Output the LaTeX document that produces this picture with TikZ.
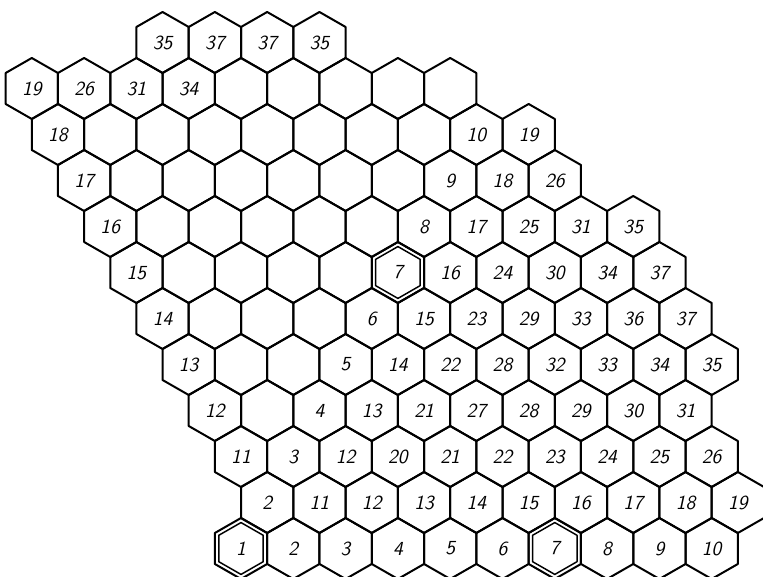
\documentclass[tikz,border=0pt]{standalone}
\usepackage{tikz}
\tikzset{
  hexline/.style={line width=1.5pt, line join=round},
  hexinner/.style={line width=1.1pt, line join=round},
  hexnum/.style={font=\sffamily\itshape\fontsize{15}{18}\selectfont, inner sep=0pt},
  hexc/.pic={\draw (0,30.5) -- (26.15,15.5) -- (26.15,-15.5) -- (0,-30.5) -- (-26.15,-15.5) -- (-26.15,15.5) -- cycle;}
}
\begin{document}
\begin{tikzpicture}[x=0.75pt, y=0.75pt]
  \useasboundingbox (0,0) rectangle (763,577);
  % cells row by row: row / first column / last column
  \foreach \r/\jmin/\jmax in {0/0/18, 1/1/19, 2/0/18, 3/-1/17, 4/-2/18, 5/-3/17,
      6/-4/16, 7/-5/15, 8/-6/12, 9/-7/11, 10/-8/8, 11/-3/3}{
    \pgfmathtruncatemacro{\jnext}{\jmin+2}
    \foreach \j in {\jmin,\jnext,...,\jmax}
      \pic[hexline] at ({241+26.15*(\j)},{28.5+46*\r}) {hexc};
  }
  % double walls
  \foreach \r/\j in {0/0, 0/12, 6/6}
    \pic[hexinner, scale=.85] at ({241+26.15*(\j)},{28.5+46*\r}) {hexc};
  % numbers
  \foreach \r/\j/\n in {0/0/1, 0/2/2, 0/4/3, 0/6/4, 0/8/5, 0/10/6, 0/12/7, 0/14/8, 0/16/9, 0/18/10,
      1/1/2, 1/3/11, 1/5/12, 1/7/13, 1/9/14, 1/11/15, 1/13/16, 1/15/17, 1/17/18, 1/19/19,
      2/0/11, 2/2/3, 2/4/12, 2/6/20, 2/8/21, 2/10/22, 2/12/23, 2/14/24, 2/16/25, 2/18/26,
      3/-1/12, 3/3/4, 3/5/13, 3/7/21, 3/9/27, 3/11/28, 3/13/29, 3/15/30, 3/17/31,
      4/-2/13, 4/4/5, 4/6/14, 4/8/22, 4/10/28, 4/12/32, 4/14/33, 4/16/34, 4/18/35,
      5/-3/14, 5/5/6, 5/7/15, 5/9/23, 5/11/29, 5/13/33, 5/15/36, 5/17/37,
      6/-4/15, 6/6/7, 6/8/16, 6/10/24, 6/12/30, 6/14/34, 6/16/37,
      7/-5/16, 7/7/8, 7/9/17, 7/11/25, 7/13/31, 7/15/35,
      8/-6/17, 8/8/9, 8/10/18, 8/12/26,
      9/-7/18, 9/9/10, 9/11/19,
      10/-8/19, 10/-6/26, 10/-4/31, 10/-2/34,
      11/-3/35, 11/-1/37, 11/1/37, 11/3/35}
    \node[hexnum] (c\r-\j) at ({241+26.15*(\j)},{28.5+46*\r}) {\n};
\end{tikzpicture}
\end{document}
